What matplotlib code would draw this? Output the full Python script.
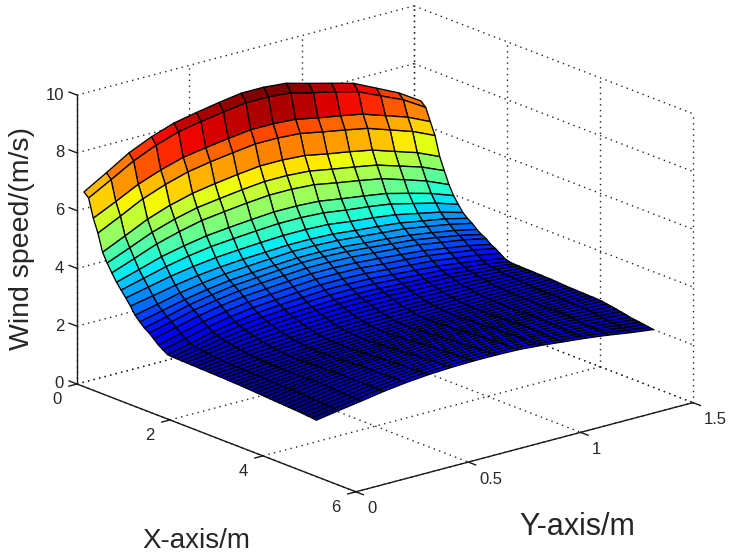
# -*- coding: utf-8 -*-
import numpy as np
import matplotlib
matplotlib.use("Agg")
import matplotlib.pyplot as plt
from mpl_toolkits.mplot3d import proj3d

x_m = [0.15, 0.25, 0.35, 0.45, 0.55, 0.65, 0.75, 0.85, 0.95, 1.05, 1.15, 1.25, 1.35,
       1.45, 1.55, 1.65, 1.75, 1.85, 1.95, 2.05, 2.15, 2.25, 2.35, 2.45, 2.55, 2.65,
       2.75, 2.85, 2.95, 3.05, 3.15, 3.25, 3.35, 3.45, 3.55, 3.65, 3.75, 3.85, 3.95,
       4.05, 4.15, 4.25, 4.35, 4.45, 4.55, 4.65, 4.75, 4.85, 4.95, 5.05, 5.15]
y_m = [0.0, 0.1, 0.2, 0.3, 0.4, 0.5, 0.6, 0.7, 0.8, 0.9, 1.0, 1.1, 1.2, 1.3, 1.4, 1.5]

# wind speed, one row per x_m, one column per y_m
wind_speed = [
    [6.74, 7.20, 7.68, 8.03, 8.30, 8.46, 8.60, 8.72, 8.72, 8.65, 8.44, 8.24, 8.03, 7.66, 7.29, 6.80],
    [6.59, 7.02, 7.46, 7.80, 8.06, 8.21, 8.34, 8.45, 8.45, 8.38, 8.18, 8.00, 7.80, 7.45, 7.11, 6.64],
    [5.96, 6.33, 6.72, 7.01, 7.24, 7.37, 7.48, 7.58, 7.58, 7.53, 7.37, 7.24, 7.09, 6.83, 6.57, 6.21],
    [5.50, 5.88, 6.28, 6.57, 6.80, 6.94, 7.05, 7.15, 7.15, 7.10, 6.95, 6.81, 6.66, 6.40, 6.14, 5.79],
    [4.90, 5.26, 5.63, 5.91, 6.12, 6.25, 6.36, 6.45, 6.45, 6.40, 6.25, 6.12, 5.97, 5.72, 5.47, 5.13],
    [4.59, 4.91, 5.24, 5.49, 5.68, 5.79, 5.89, 5.97, 5.97, 5.92, 5.78, 5.65, 5.51, 5.27, 5.03, 4.70],
    [4.31, 4.60, 4.90, 5.12, 5.30, 5.40, 5.49, 5.56, 5.56, 5.51, 5.37, 5.24, 5.10, 4.86, 4.61, 4.28],
    [4.05, 4.28, 4.52, 4.69, 4.83, 4.91, 4.98, 5.04, 5.04, 5.00, 4.88, 4.77, 4.65, 4.45, 4.24, 3.96],
    [3.84, 4.04, 4.24, 4.40, 4.52, 4.59, 4.65, 4.70, 4.70, 4.66, 4.55, 4.46, 4.35, 4.16, 3.97, 3.72],
    [3.63, 3.80, 3.97, 4.10, 4.20, 4.26, 4.31, 4.35, 4.35, 4.32, 4.22, 4.14, 4.04, 3.88, 3.72, 3.50],
    [3.41, 3.56, 3.72, 3.85, 3.94, 4.00, 4.04, 4.08, 4.08, 4.05, 3.97, 3.90, 3.82, 3.68, 3.55, 3.36],
    [3.16, 3.33, 3.52, 3.65, 3.76, 3.82, 3.87, 3.92, 3.92, 3.89, 3.82, 3.75, 3.68, 3.55, 3.42, 3.25],
    [2.99, 3.17, 3.35, 3.49, 3.60, 3.66, 3.71, 3.76, 3.76, 3.73, 3.66, 3.60, 3.52, 3.40, 3.27, 3.10],
    [2.84, 3.03, 3.23, 3.37, 3.49, 3.55, 3.61, 3.66, 3.66, 3.63, 3.56, 3.49, 3.42, 3.29, 3.16, 2.99],
    [2.73, 2.91, 3.11, 3.25, 3.36, 3.43, 3.48, 3.53, 3.53, 3.50, 3.44, 3.38, 3.31, 3.19, 3.07, 2.91],
    [2.59, 2.78, 2.97, 3.12, 3.23, 3.29, 3.35, 3.40, 3.40, 3.37, 3.31, 3.24, 3.17, 3.05, 2.93, 2.77],
    [2.44, 2.63, 2.83, 2.98, 3.10, 3.16, 3.22, 3.27, 3.27, 3.25, 3.18, 3.13, 3.06, 2.95, 2.84, 2.69],
    [2.33, 2.52, 2.71, 2.86, 2.97, 3.03, 3.09, 3.14, 3.14, 3.12, 3.06, 3.00, 2.94, 2.83, 2.73, 2.58],
    [2.23, 2.41, 2.60, 2.74, 2.85, 2.92, 2.97, 3.02, 3.02, 3.00, 2.94, 2.88, 2.82, 2.72, 2.61, 2.47],
    [2.21, 2.37, 2.54, 2.67, 2.76, 2.82, 2.87, 2.91, 2.91, 2.89, 2.84, 2.79, 2.73, 2.64, 2.55, 2.42],
    [2.21, 2.35, 2.49, 2.60, 2.68, 2.73, 2.77, 2.81, 2.81, 2.79, 2.75, 2.71, 2.66, 2.58, 2.51, 2.40],
    [2.20, 2.32, 2.45, 2.55, 2.63, 2.67, 2.71, 2.74, 2.74, 2.73, 2.69, 2.66, 2.62, 2.55, 2.49, 2.40],
    [2.20, 2.31, 2.42, 2.51, 2.57, 2.61, 2.64, 2.67, 2.67, 2.66, 2.63, 2.60, 2.57, 2.52, 2.46, 2.39],
    [2.19, 2.28, 2.38, 2.46, 2.51, 2.55, 2.58, 2.60, 2.60, 2.59, 2.57, 2.55, 2.52, 2.48, 2.44, 2.39],
    [2.19, 2.27, 2.36, 2.42, 2.47, 2.50, 2.53, 2.55, 2.55, 2.54, 2.53, 2.51, 2.49, 2.46, 2.43, 2.39],
    [2.18, 2.25, 2.33, 2.39, 2.43, 2.46, 2.48, 2.50, 2.50, 2.49, 2.48, 2.47, 2.46, 2.43, 2.41, 2.38],
    [2.18, 2.24, 2.31, 2.36, 2.40, 2.42, 2.44, 2.46, 2.46, 2.46, 2.45, 2.44, 2.43, 2.41, 2.40, 2.38],
    [2.17, 2.23, 2.29, 2.34, 2.38, 2.40, 2.41, 2.43, 2.43, 2.43, 2.42, 2.42, 2.41, 2.40, 2.38, 2.37],
    [2.17, 2.22, 2.28, 2.32, 2.35, 2.37, 2.39, 2.40, 2.40, 2.40, 2.40, 2.39, 2.39, 2.38, 2.37, 2.37],
    [2.16, 2.21, 2.26, 2.30, 2.33, 2.35, 2.37, 2.38, 2.38, 2.38, 2.38, 2.37, 2.37, 2.37, 2.36, 2.36],
    [2.16, 2.21, 2.26, 2.30, 2.33, 2.34, 2.36, 2.37, 2.37, 2.37, 2.37, 2.36, 2.36, 2.36, 2.35, 2.35],
    [2.15, 2.20, 2.25, 2.29, 2.32, 2.34, 2.36, 2.37, 2.37, 2.37, 2.37, 2.36, 2.36, 2.35, 2.35, 2.34],
    [2.14, 2.19, 2.25, 2.29, 2.32, 2.34, 2.36, 2.37, 2.37, 2.37, 2.37, 2.36, 2.36, 2.35, 2.34, 2.33],
    [2.14, 2.20, 2.25, 2.30, 2.33, 2.35, 2.37, 2.38, 2.38, 2.38, 2.37, 2.37, 2.36, 2.35, 2.34, 2.33],
    [2.13, 2.19, 2.25, 2.30, 2.34, 2.36, 2.37, 2.39, 2.39, 2.39, 2.38, 2.37, 2.36, 2.35, 2.34, 2.32],
    [2.12, 2.18, 2.25, 2.30, 2.34, 2.36, 2.38, 2.40, 2.40, 2.40, 2.39, 2.37, 2.36, 2.35, 2.33, 2.32],
    [2.11, 2.18, 2.25, 2.31, 2.35, 2.37, 2.39, 2.41, 2.41, 2.40, 2.39, 2.38, 2.36, 2.35, 2.33, 2.31],
    [2.10, 2.18, 2.26, 2.31, 2.36, 2.39, 2.41, 2.43, 2.43, 2.42, 2.40, 2.38, 2.37, 2.35, 2.33, 2.31],
    [2.09, 2.17, 2.25, 2.32, 2.37, 2.39, 2.42, 2.44, 2.44, 2.43, 2.41, 2.39, 2.37, 2.35, 2.33, 2.30],
    [2.08, 2.17, 2.26, 2.33, 2.38, 2.41, 2.44, 2.46, 2.46, 2.45, 2.42, 2.40, 2.38, 2.35, 2.33, 2.29],
    [2.07, 2.18, 2.27, 2.34, 2.40, 2.43, 2.45, 2.47, 2.47, 2.46, 2.44, 2.41, 2.38, 2.35, 2.31, 2.26],
    [2.06, 2.17, 2.27, 2.34, 2.40, 2.44, 2.46, 2.48, 2.48, 2.47, 2.44, 2.41, 2.38, 2.34, 2.29, 2.24],
    [2.05, 2.16, 2.26, 2.34, 2.40, 2.44, 2.47, 2.49, 2.49, 2.48, 2.45, 2.41, 2.37, 2.33, 2.27, 2.21],
    [2.04, 2.15, 2.25, 2.34, 2.41, 2.45, 2.48, 2.50, 2.50, 2.49, 2.45, 2.41, 2.37, 2.31, 2.25, 2.18],
    [2.03, 2.14, 2.25, 2.34, 2.41, 2.46, 2.49, 2.51, 2.51, 2.50, 2.46, 2.41, 2.36, 2.30, 2.23, 2.15],
    [2.02, 2.13, 2.24, 2.34, 2.41, 2.46, 2.50, 2.52, 2.52, 2.51, 2.46, 2.41, 2.35, 2.28, 2.20, 2.11],
    [2.01, 2.12, 2.23, 2.34, 2.42, 2.47, 2.51, 2.53, 2.53, 2.52, 2.47, 2.41, 2.34, 2.27, 2.18, 2.09],
    [2.00, 2.11, 2.22, 2.34, 2.42, 2.48, 2.52, 2.54, 2.54, 2.53, 2.48, 2.41, 2.34, 2.26, 2.16, 2.07],
    [1.98, 2.10, 2.22, 2.33, 2.43, 2.49, 2.53, 2.55, 2.55, 2.53, 2.48, 2.40, 2.33, 2.25, 2.14, 2.05],
    [1.97, 2.09, 2.21, 2.33, 2.43, 2.49, 2.53, 2.55, 2.55, 2.54, 2.48, 2.40, 2.33, 2.23, 2.12, 2.02],
    [1.95, 2.08, 2.20, 2.33, 2.43, 2.50, 2.54, 2.56, 2.56, 2.54, 2.48, 2.40, 2.32, 2.22, 2.10, 2.00],
]

x_ticks = [0, 2, 4, 6]
y_ticks = [0, 0.5, 1, 1.5]
z_ticks = [0, 2, 4, 6, 8, 10]
y_tick_labels = ["0", "0.5", "1", "1.5"]

color_lo = 1.85
color_hi = 8.72

W, H = 730, 555
# where the box corners sit in the picture, in pixels from the top left
origin_px = (77, 384)
far_corner_px = (693, 403)

plt.rcParams["font.family"] = ["Liberation Sans", "DejaVu Sans"]
TEXT = "#262626"
LINE = "#1a1a1a"

fig = plt.figure(figsize=(W / 100, H / 100), dpi=100)
ax = fig.add_axes([0, 0, 1, 1], projection="3d", proj_type="ortho")
ax.computed_zorder = False
ax.view_init(elev=18.65, azim=-39.6)
ax.set_box_aspect((1, 1, 0.697))
ax.set_xlim(0, 6, view_margin=0)
ax.set_ylim(0, 1.5, view_margin=0)
ax.set_zlim(0, 10, view_margin=0)
ax.set_axis_off()


def to_px(x, y, z):
    xs, ys, _ = proj3d.proj_transform(x, y, z, ax.get_proj())
    dx, dy = ax.transData.transform((xs, ys))
    return dx, H - dy


# size and shift the square axes so that the box lands on the reference corners
fig.canvas.draw()
p0 = to_px(0, 0, 0)
p1 = to_px(6, 1.5, 0)
size = ax.get_position().width * W * (far_corner_px[0] - origin_px[0]) / (p1[0] - p0[0])
ax.set_position([0, 0, size / W, size / H])
fig.canvas.draw()
p0 = to_px(0, 0, 0)
ax.set_position([(origin_px[0] - p0[0]) / W, (p0[1] - origin_px[1]) / H, size / W, size / H])
fig.canvas.draw()

dot_style = dict(color="#222222", lw=1.0, ls=(0, (1, 3.1)), zorder=1, clip_on=False)
solid_style = dict(color=LINE, lw=1.0, zorder=3, clip_on=False)

# grid on the floor and the two back walls
for xt in x_ticks:
    ax.plot([xt, xt], [0, 1.5], [0, 0], **dot_style)
    ax.plot([xt, xt], [1.5, 1.5], [0, 10], **dot_style)
for yt in y_ticks:
    ax.plot([0, 6], [yt, yt], [0, 0], **dot_style)
    ax.plot([0, 0], [yt, yt], [0, 10], **dot_style)
for zt in z_ticks:
    ax.plot([0, 0], [0, 1.5], [zt, zt], **dot_style)
    ax.plot([0, 6], [1.5, 1.5], [zt, zt], **dot_style)

# surface, each cell coloured by its first corner like matlab's surf
Z = np.array(wind_speed)
X = np.array(x_m)[:, None] * np.ones_like(Z)
Y = np.array(y_m)[None, :] * np.ones_like(Z)
norm = plt.Normalize(color_lo, color_hi)
face = plt.get_cmap("jet")(norm(Z))
ax.plot_surface(X, Y, Z, facecolors=face, rstride=1, cstride=1, shade=False,
                edgecolor="black", linewidth=0.95, antialiased=True, zorder=2)

# solid axis lines and ticks
ax.plot([0, 0], [0, 0], [0, 10], **solid_style)
ax.plot([0, 6], [0, 0], [0, 0], **solid_style)
ax.plot([6, 6], [0, 1.5], [0, 0], **solid_style)
for zt in z_ticks:
    ax.plot([0, -0.17], [0, 0], [zt, zt], **solid_style)
    px, py = to_px(0, 0, zt)
    fig.text((px - 13) / W, 1 - py / H, str(zt), ha="right", va="center", fontsize=12, color=TEXT)
for xt in x_ticks:
    ax.plot([xt, xt], [0, -0.036], [0, 0], **solid_style)
    px, py = to_px(xt, 0, 0)
    fig.text((px - 20) / W, 1 - (py + 16) / H, str(xt), ha="center", va="center", fontsize=12, color=TEXT)
for yt, label in zip(y_ticks, y_tick_labels):
    ax.plot([6, 6.16], [yt, yt], [0, 0], **solid_style)
    px, py = to_px(6, yt, 0)
    fig.text((px + 11) / W, 1 - (py + 17) / H, label, ha="left", va="center", fontsize=12, color=TEXT)

fig.text(196 / W, 1 - 541 / H, "X-axis/m", ha="center", va="center", fontsize=20, color=TEXT)
fig.text(577 / W, 1 - 527 / H, "Y-axis/m", ha="center", va="center", fontsize=22, color=TEXT)
fig.text(22 / W, 1 - 239 / H, "Wind speed/(m/s)", ha="center", va="center", rotation=90,
         fontsize=20.5, color=TEXT)

fig.savefig("out.png", dpi=100)
